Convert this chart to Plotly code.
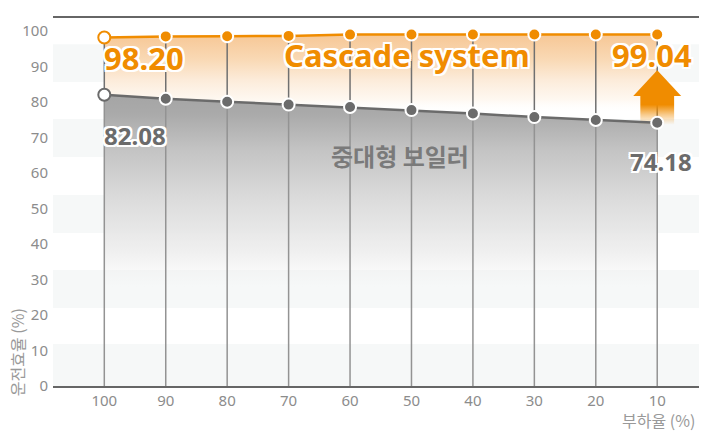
import plotly.graph_objects as go

# ---- data -------------------------------------------------------------
load_pct = [100, 90, 80, 70, 60, 50, 40, 30, 20, 10]          # 부하율 (%)
cascade_eff = [98.20, 98.52, 98.55, 98.66, 99.02, 99.03, 99.03, 99.04, 99.04, 99.04]
boiler_eff = [82.08, 80.94, 80.12, 79.30, 78.61, 77.75, 76.79, 75.77, 74.95, 74.18]
y_tick_vals = [0, 10, 20, 30, 40, 50, 60, 70, 80, 90, 100]
series_names = ["Cascade system", "중대형 보일러"]
x_title = "부하율 (%)"
y_title = "운전효율 (%)"

# ---- styling ----------------------------------------------------------
ORANGE = "#f08c00"
GRAY = "#6b6b6b"
TICK_COLOR = "#8c8c8c"
NUM_FONT = "Noto Sans, Noto Sans CJK KR, sans-serif"
KR_FONT = "Noto Sans CJK KR, Noto Sans, sans-serif"
OUTLINE = ("-2px -2px 0 #fff, 2px -2px 0 #fff, -2px 2px 0 #fff, 2px 2px 0 #fff, "
           "0 2px 0 #fff, 0 -2px 0 #fff, 2px 0 0 #fff, -2px 0 0 #fff")

Y_MAX = 103.7
X_RANGE = [108.35, 3.2]

fig = go.Figure()

# gray area under the boiler curve
fig.add_trace(go.Scatter(
    x=load_pct, y=boiler_eff, mode="lines", line=dict(width=0),
    fill="tozeroy",
    fillgradient=dict(
        type="vertical", start=28, stop=82,
        colorscale=[[0, "rgba(238,238,238,0)"], [0.19, "rgba(236,236,236,0.85)"],
                    [0.45, "#dcdcdc"], [0.71, "#c4c4c4"], [0.9, "#aaaaaa"], [1, "#a5a5a5"]],
    ),
    hoverinfo="skip", showlegend=False,
))

# orange band between the two curves
fig.add_trace(go.Scatter(
    x=load_pct, y=cascade_eff, mode="lines", line=dict(width=0),
    fill="tonexty",
    fillgradient=dict(
        type="vertical", start=77, stop=Y_MAX,
        colorscale=[[0, "rgba(255,255,255,0)"], [0.14, "rgba(254,247,239,0.9)"],
                    [0.35, "#fcebd9"], [0.56, "#f9d9b5"], [0.77, "#f7cb9c"], [1, "#f5bd80"]],
    ),
    hoverinfo="skip", showlegend=False,
))

# vertical drop lines from each point
upper_x, upper_y, lower_x, lower_y = [], [], [], []
for xv, top, mid in zip(load_pct, cascade_eff, boiler_eff):
    upper_x += [xv, xv, None]
    upper_y += [top, mid, None]
    lower_x += [xv, xv, None]
    lower_y += [mid, 0, None]
fig.add_trace(go.Scatter(x=upper_x, y=upper_y, mode="lines",
                         line=dict(color="#707070", width=1.5),
                         hoverinfo="skip", showlegend=False))
fig.add_trace(go.Scatter(x=lower_x, y=lower_y, mode="lines",
                         line=dict(color="#939393", width=1.5),
                         hoverinfo="skip", showlegend=False))

# up arrow between the curves at the lightest load
ax = load_pct[-1]
tip_y, base_y, tail_y = 89.0, 81.7, 73.6
head_half, shaft_half = 3.9, 2.75
fig.add_trace(go.Scatter(
    x=[ax + head_half, ax, ax - head_half, ax + head_half], y=[base_y, tip_y, base_y, base_y],
    mode="lines", line=dict(width=0), fill="toself", fillcolor=ORANGE,
    hoverinfo="skip", showlegend=False,
))
fig.add_trace(go.Scatter(
    x=[ax + shaft_half, ax - shaft_half, ax - shaft_half, ax + shaft_half, ax + shaft_half],
    y=[base_y + 0.2, base_y + 0.2, tail_y, tail_y, base_y + 0.2],
    mode="lines", line=dict(width=0), fill="toself",
    fillgradient=dict(type="vertical", start=tail_y, stop=base_y,
                      colorscale=[[0, "rgba(240,140,0,0)"], [0.35, "rgba(240,140,0,0.45)"],
                                  [0.7, "rgba(240,140,0,1)"], [1, "rgba(240,140,0,1)"]]),
    hoverinfo="skip", showlegend=False,
))


def marker_style(color):
    n = len(load_pct)
    return dict(
        size=12,
        color=["#ffffff"] + [color] * (n - 1),
        line=dict(width=2, color=[color] + ["#ffffff"] * (n - 1)),
    )


fig.add_trace(go.Scatter(
    x=load_pct, y=boiler_eff, mode="lines+markers", name=series_names[1],
    line=dict(color=GRAY, width=2.5), marker=marker_style(GRAY), showlegend=False,
))
fig.add_trace(go.Scatter(
    x=load_pct, y=cascade_eff, mode="lines+markers", name=series_names[0],
    line=dict(color=ORANGE, width=2.5), marker=marker_style(ORANGE), showlegend=False,
))

# horizontal background bands (paper coordinates)
band_edges = [(0.929, 0.826), (0.7255, 0.6223), (0.519, 0.4158), (0.315, 0.212), (0.114, 0.0)]
shapes = [
    dict(type="rect", xref="paper", yref="paper", x0=0, x1=1, y0=lo, y1=hi,
         fillcolor="#f6f8f8", line=dict(width=0), layer="below")
    for hi, lo in band_edges
]


def label(text, x, y, size, color, xanchor, xshift, yshift, family=NUM_FONT, outline=True):
    font = dict(size=size, color=color, family=family, weight="bold")
    if outline:
        font["shadow"] = OUTLINE
    return dict(text=text, x=x, y=y, xref="x", yref="y", showarrow=False,
                xanchor=xanchor, yanchor="middle", xshift=xshift, yshift=yshift, font=font)


annotations = [
    label(f"{cascade_eff[0]:.2f}", load_pct[0], cascade_eff[0], 31, ORANGE, "left", -2, -20),
    label(f"{cascade_eff[-1]:.2f}", load_pct[-1], cascade_eff[-1], 31, ORANGE, "right", 37, -20),
    label(series_names[0], load_pct[5], cascade_eff[5], 31, ORANGE, "center", -4, -20),
    label(f"{boiler_eff[0]:.2f}", load_pct[0], boiler_eff[0], 24, GRAY, "left", -2, -41),
    label(f"{boiler_eff[-1]:.2f}", load_pct[-1], boiler_eff[-1], 24, GRAY, "right", 37, -39),
    label(series_names[1], load_pct[5], boiler_eff[5], 24, "#7a7a7a", "center", -11, -45,
          family=KR_FONT, outline=False),
    dict(text=x_title, xref="paper", yref="paper", x=0.997, y=-0.092,
         xanchor="right", yanchor="middle", showarrow=False,
         font=dict(size=16, color="#999999", family=KR_FONT)),
    dict(text=y_title, xref="paper", yref="paper", x=-0.0557, y=0.092,
         xanchor="center", yanchor="middle", textangle=-90, showarrow=False,
         font=dict(size=16, color="#999999", family=KR_FONT)),
]

fig.update_layout(
    width=707, height=435,
    margin=dict(l=53, r=8, t=18, b=49),
    paper_bgcolor="#ffffff", plot_bgcolor="#ffffff",
    shapes=shapes, annotations=annotations,
    hovermode=False,
    xaxis=dict(
        range=X_RANGE, tickvals=load_pct, ticktext=[str(v) for v in load_pct],
        showgrid=False, zeroline=False, showline=True, mirror=True,
        linecolor="#666666", linewidth=1.5, ticks="",
        tickfont=dict(size=15, color=TICK_COLOR, family=NUM_FONT),
    ),
    yaxis=dict(
        range=[0, Y_MAX], tickvals=y_tick_vals,
        showgrid=False, zeroline=False, showline=False, ticks="",
        ticklabelstandoff=4,
        tickfont=dict(size=15, color=TICK_COLOR, family=NUM_FONT),
    ),
)

fig.write_html("out.html")
